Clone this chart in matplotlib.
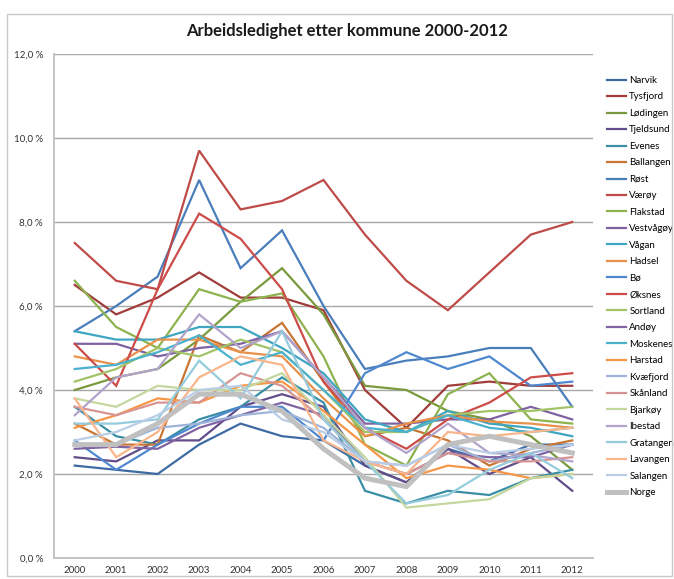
import matplotlib.pyplot as plt
from matplotlib.patches import Rectangle
from matplotlib.ticker import FuncFormatter

plt.rcParams['font.family'] = ['Lato', 'DejaVu Sans']

years = ["2000", "2001", "2002", "2003", "2004", "2005", "2006",
         "2007", "2008", "2009", "2010", "2011", "2012"]

# arbeidsledighet i prosent, 2000-2012
narvik    = [2.2, 2.1, 2.0, 2.7, 3.2, 2.9, 2.8, 2.2, 1.8, 2.6, 2.3, 2.7, 2.7]
tysfjord  = [6.5, 5.8, 6.2, 6.8, 6.2, 6.2, 5.9, 4.0, 3.1, 4.1, 4.2, 4.1, 4.1]
lodingen  = [4.0, 4.3, 4.5, 5.2, 6.1, 6.9, 5.8, 4.1, 4.0, 3.5, 3.3, 2.9, 2.1]
tjeldsund = [2.4, 2.3, 2.8, 2.8, 3.6, 3.9, 3.6, 2.2, 1.8, 2.6, 2.0, 2.4, 1.6]
evenes    = [3.6, 2.9, 2.7, 3.3, 3.6, 4.3, 3.7, 1.6, 1.3, 1.6, 1.5, 1.9, 2.1]
ballangen = [3.2, 2.7, 2.7, 5.3, 4.9, 5.6, 4.2, 2.9, 3.1, 2.8, 2.2, 2.6, 2.8]
rost      = [5.4, 6.0, 6.7, 9.0, 6.9, 7.8, 6.0, 4.5, 4.7, 4.8, 5.0, 5.0, 3.6]
varoy     = [7.5, 6.6, 6.4, 9.7, 8.3, 8.5, 9.0, 7.7, 6.6, 5.9, 6.8, 7.7, 8.0]
flakstad  = [6.6, 5.5, 5.0, 6.4, 6.1, 6.3, 4.8, 2.7, 2.2, 3.9, 4.4, 3.3, 3.2]
vestvagoy = [5.1, 5.1, 4.8, 5.0, 5.1, 5.4, 4.3, 3.2, 3.2, 3.3, 3.3, 3.6, 3.3]
vagan     = [5.4, 5.2, 5.2, 5.5, 5.5, 5.0, 4.4, 3.3, 3.0, 3.5, 3.2, 3.1, 2.9]
hadsel    = [4.8, 4.6, 5.2, 5.2, 4.9, 4.8, 3.8, 2.9, 3.2, 3.4, 3.25, 3.2, 3.1]
bo        = [2.8, 2.1, 2.7, 3.2, 3.6, 3.6, 2.8, 4.4, 4.9, 4.5, 4.8, 4.1, 4.2]
oksnes    = [5.1, 4.1, 6.4, 8.2, 7.6, 6.4, 4.2, 3.1, 2.6, 3.3, 3.7, 4.3, 4.4]
sortland  = [4.2, 4.5, 5.0, 4.8, 5.2, 4.9, 4.0, 3.0, 3.0, 3.4, 3.5, 3.5, 3.6]
andoy     = [2.6, 2.65, 2.6, 3.1, 3.4, 3.7, 3.4, 2.3, 2.0, 2.5, 2.4, 2.4, 2.7]
moskenes  = [4.5, 4.6, 4.9, 5.3, 4.6, 4.9, 4.0, 3.1, 3.0, 3.4, 3.1, 3.0, 3.1]
harstad   = [3.1, 3.4, 3.8, 3.7, 4.1, 4.2, 3.5, 2.7, 1.9, 2.2, 2.1, 1.9, 2.0]
kvafjord  = [2.7, 2.7, 3.1, 3.2, 3.4, 3.5, 3.1, 2.3, 2.2, 2.7, 2.3, 2.5, 2.7]
skanland  = [3.6, 3.4, 3.7, 3.7, 4.4, 4.1, 3.3, 2.3, 2.0, 2.5, 2.3, 2.3, 2.4]
bjarkoy   = [3.8, 3.6, 4.1, 4.0, 4.0, 4.4, 3.4, 2.4, 1.2, 1.3, 1.4, 1.9, 2.0]
ibestad   = [3.4, 4.3, 4.5, 5.8, 5.0, 5.4, 4.3, 3.1, 2.5, 3.2, 2.5, 2.45, 2.3]
gratangen = [3.2, 3.2, 3.3, 4.7, 3.8, 5.4, 3.3, 2.3, 1.3, 1.5, 2.1, 2.5, 1.9]
lavangen  = [3.8, 2.4, 3.0, 4.3, 4.8, 4.6, 2.8, 2.3, 2.0, 3.0, 2.9, 3.0, 3.1]
salangen  = [2.8, 3.0, 3.4, 4.0, 4.1, 3.3, 3.0, 2.3, 2.2, 2.7, 2.5, 2.6, 2.7]
norge     = [2.7, 2.7, 3.2, 3.9, 3.9, 3.5, 2.6, 1.9, 1.7, 2.7, 2.9, 2.7, 2.5]

names = ["Narvik", "Tysfjord", "Lødingen", "Tjeldsund", "Evenes", "Ballangen",
         "Røst", "Værøy", "Flakstad", "Vestvågøy", "Vågan", "Hadsel", "Bø",
         "Øksnes", "Sortland", "Andøy", "Moskenes", "Harstad", "Kvæfjord",
         "Skånland", "Bjarkøy", "Ibestad", "Gratangen", "Lavangen", "Salangen",
         "Norge"]
series = [narvik, tysfjord, lodingen, tjeldsund, evenes, ballangen, rost, varoy,
          flakstad, vestvagoy, vagan, hadsel, bo, oksnes, sortland, andoy,
          moskenes, harstad, kvafjord, skanland, bjarkoy, ibestad, gratangen,
          lavangen, salangen, norge]
colors = ["#3E6BA3", "#A03D3A", "#7A9A3D", "#634C8A", "#3A8FA6", "#C87633",
          "#4A7EBB", "#BE4B48", "#8EB24E", "#7E62A1", "#3FA5C1", "#E8914A",
          "#4F88CF", "#CC4C49", "#A2C467", "#8064A2", "#4BB1CC", "#F79646",
          "#9EB4D8", "#D69492", "#C4D79E", "#B2A3CA", "#94CCDD", "#F9B58B",
          "#BACDE6", "#C0C0C0"]

fig = plt.figure(figsize=(6.74, 5.79), dpi=100)
ax = fig.add_axes([54/674, 1 - 558/579, 539/674, 504/579])

x = range(len(years))
for vals, name, c in zip(series, names, colors):
    lw = 3.6 if name == "Norge" else 1.6
    ax.plot(x, vals, color=c, lw=lw, label=name, solid_joinstyle='miter')

ax.set_xlim(-0.5, len(years) - 0.5)
ax.set_ylim(0, 12)
ax.set_yticks([0, 2, 4, 6, 8, 10, 12])
ax.yaxis.set_major_formatter(FuncFormatter(lambda v, p: f"{v:.1f} %".replace(".", ",")))
ax.set_xticks(list(x))
ax.set_xticklabels(years)
ax.grid(axis='y', color='#A6A6A6', lw=1.0)
ax.set_axisbelow(True)
for s in ['top', 'right']:
    ax.spines[s].set_visible(False)
for s in ['left', 'bottom']:
    ax.spines[s].set_color('#BFBFBF')
    ax.spines[s].set_linewidth(1.3)
ax.tick_params(axis='y', length=0, pad=8, labelsize=7, labelcolor='#333333')
ax.tick_params(axis='x', length=0, pad=6, labelsize=7, labelcolor='#333333')

fig.text(0.515, 0.947, "Arbeidsledighet etter kommune 2000-2012",
         ha='center', va='center', fontsize=12, fontweight='bold', color='#1a1a1a')

ax.legend(loc='upper left', bbox_to_anchor=(607/674, 1 - 76/579),
          bbox_transform=fig.transFigure, frameon=False, fontsize=7,
          handlelength=2.0, handletextpad=0.3, labelspacing=0.77,
          borderpad=0, borderaxespad=0)

fig.add_artist(Rectangle((7/674, 3/579), 665/674, 562/579, transform=fig.transFigure,
                         fill=False, edgecolor='#C8C8C8', lw=1.0))

fig.savefig("out.png", dpi=100)
